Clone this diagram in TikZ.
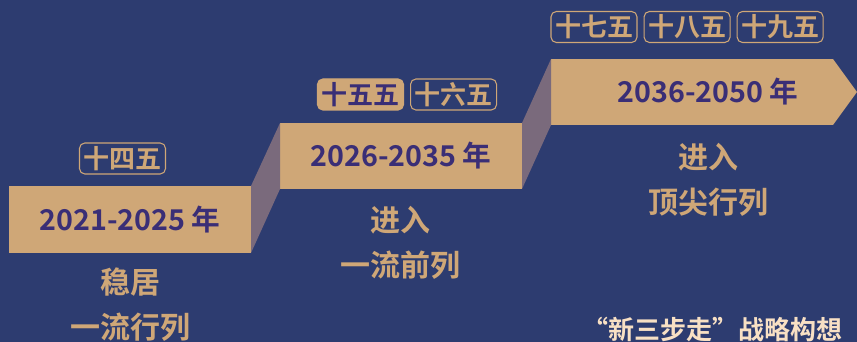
\documentclass[tikz,border=0pt]{standalone}
\usepackage{fontspec}
\setmainfont{Noto Sans CJK SC}[BoldFont={Noto Sans CJK SC Bold}]
\usetikzlibrary{positioning}

\definecolor{bgblue}{RGB}{45,60,112}
\definecolor{boxtan}{RGB}{207,167,119}
\definecolor{sidegray}{RGB}{122,106,124}
\definecolor{yearink}{RGB}{58,46,118}
\definecolor{peach}{RGB}{248,224,196}

\begin{document}
\begin{tikzpicture}[x=0.75pt,y=-0.75pt,
    yearbox/.style={fill=boxtan, text=yearink, inner sep=0pt, outer sep=0pt,
        font=\bfseries\fontsize{21.5}{21.5}\selectfont},
    tag/.style={draw=boxtan, line width=0.8pt, rounded corners=4pt,
        minimum width=64.5pt, minimum height=23.25pt, inner sep=0pt,
        text=boxtan, font=\bfseries\fontsize{19.5}{19.5}\selectfont},
    tagfill/.style={tag, fill=boxtan, text=yearink},
    goal/.style={align=center, text=boxtan,
        font=\bfseries\fontsize{22.5}{33.75}\selectfont}]

                    \useasboundingbox (0,0) rectangle (857,342);
                    \fill[bgblue] (0,0) rectangle (857,342);

                    % the three steps
                    \node[yearbox, minimum width=181.5pt, minimum height=50.25pt] (Y1) at (130,219.5) {2021-2025 年};
                    \node[yearbox, minimum width=181.5pt, minimum height=49.5pt] (Y2) at (401,156) {2026-2035 年};
                    \node[yearbox, minimum width=211.5pt, minimum height=49.5pt] (Y3) at (692,92) {};
                    \coordinate (tip) at (857,92);
                    \fill[boxtan] (Y3.north east) -- (tip) -- (Y3.south east) -- cycle;
                    \node[yearbox, fill=none] (Y3t) at (708,92) {2036-2050 年};

                    \fill[sidegray] (Y1.north east) -- (Y2.north west) -- (Y2.south west) -- (Y1.south east) -- cycle;
                    \fill[sidegray] (Y2.north east) -- (Y3.north west) -- (Y3.south west) -- (Y2.south east) -- cycle;

                    % five-year plans
                    \node[tag] (T14) at (122.5,158.5) {十四五};
                    \node[tagfill] (T15) at (360.5,94.5) {十五五};
                    \node[tag, right=4.5pt of T15] (T16) {十六五};
                    \node[tag] (T17) at (594,27) {十七五};
                    \node[tag, right=4.5pt of T17] (T18) {十八五};
                    \node[tag, right=4.5pt of T18] (T19) {十九五};

                    % goals
                    \node[goal] (G1) at (130,305) {稳居\\一流行列};
                    \node[goal] (G2) at (400,243) {进入\\一流前列};
                    \node[goal] (G3) at (708,180) {进入\\顶尖行列};

                    \node[anchor=east, text=peach, inner sep=0pt,
                          font=\bfseries\fontsize{19.5}{19.5}\selectfont] (note) at (843,330) {“新三步走”战略构想};
                \end{tikzpicture}
\end{document}
